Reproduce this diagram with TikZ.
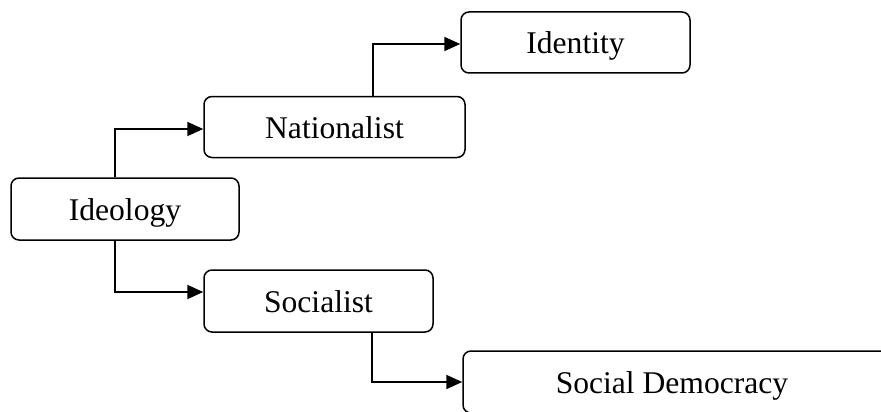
\documentclass[tikz,border=0pt]{standalone}
\usepackage{fontspec}
\setmainfont{Liberation Serif}
\usetikzlibrary{arrows.meta}
\begin{document}
\begin{tikzpicture}[x=1pt,y=-1pt,
  box/.style={draw=black,line width=1.5pt,rounded corners=8pt,inner sep=0pt,
    text height=22pt,text depth=0pt,font=\fontsize{31.6}{38}\selectfont},
  arr/.style={draw=black,line width=1.9pt,-{Triangle[length=16pt,width=14pt]}}]
\useasboundingbox (0,0) rectangle (881,412);
\clip (0,0) rectangle (881,412);
\node[box,minimum width=228pt,minimum height=62pt] (ideo) at (125,209) {Ideology};
\node[box,minimum width=261pt,minimum height=61pt] (nat) at (334.5,127) {Nationalist};
\node[box,minimum width=229pt,minimum height=61pt] (ident) at (575.5,42.5) {Identity};
\node[box,minimum width=229pt,minimum height=62pt] (soc) at (318.5,301) {Socialist};
\node[box,minimum width=432pt,minimum height=62pt] (sd) at (679,382) {Social Democracy\hspace*{14pt}};
\draw[arr] ([xshift=-10pt]ideo.north) |- ([yshift=-2pt]nat.west);
\draw[arr] ([xshift=-10pt]ideo.south) |- ([yshift=9pt]soc.west);
\draw[arr] ([xshift=38.5pt]nat.north) |- ([yshift=-1.5pt]ident.west);
\draw[arr] ([xshift=53.5pt]soc.south) |- (sd.west);
\end{tikzpicture}
\end{document}
